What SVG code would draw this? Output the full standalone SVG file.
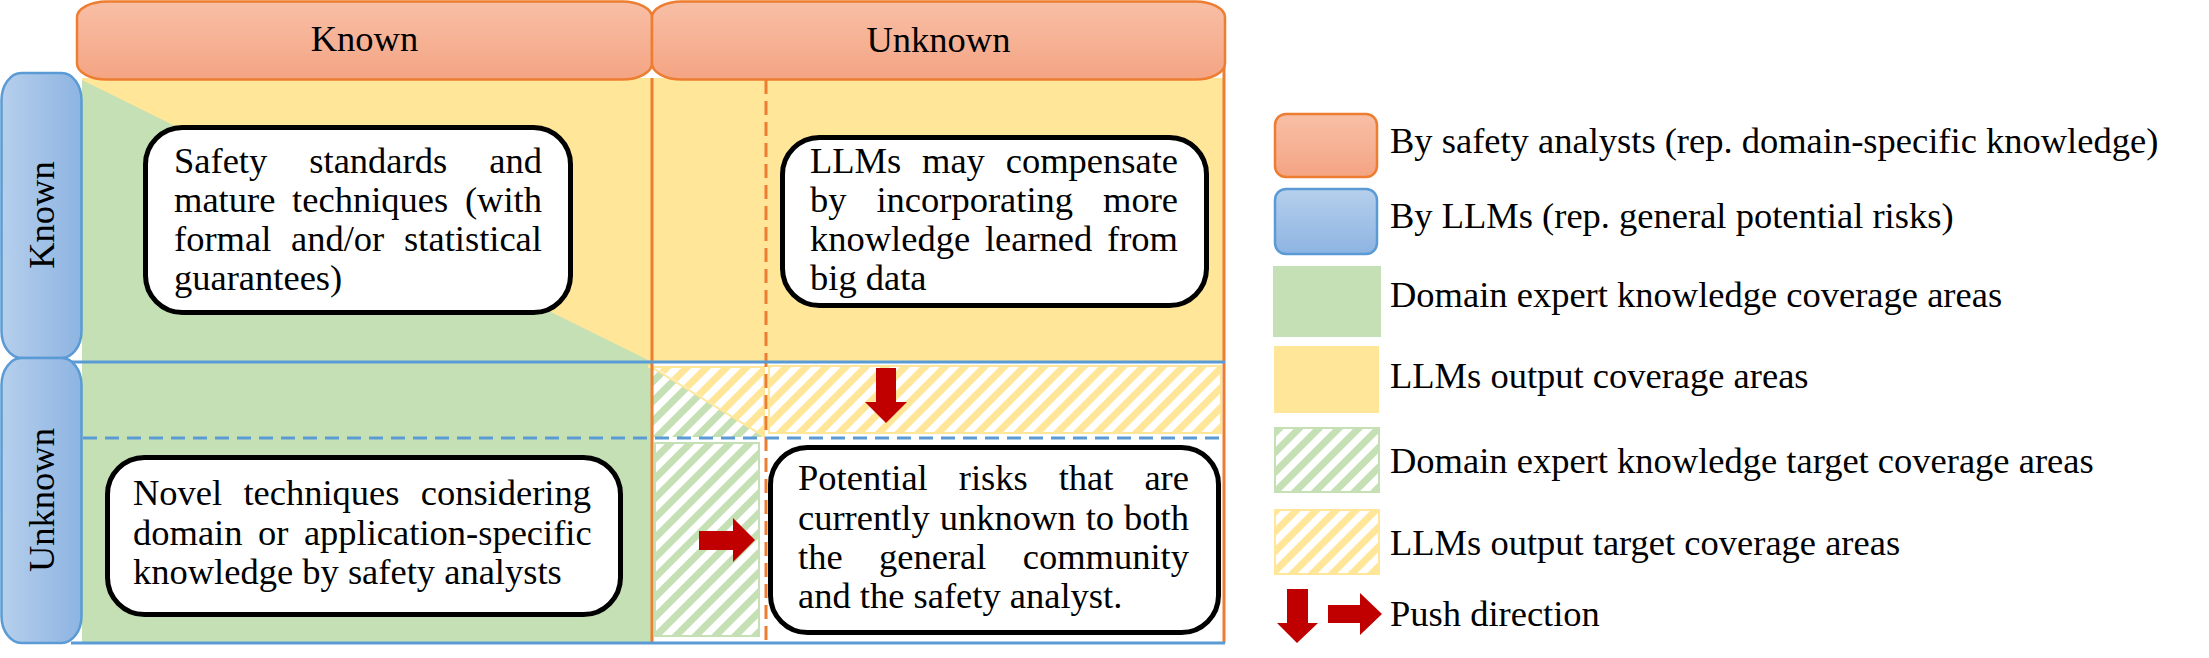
<svg xmlns="http://www.w3.org/2000/svg" width="2209" height="658" viewBox="0 0 2209 658">
<style>
.t{font-family:"Liberation Serif","Times New Roman",serif;font-size:36.5px;fill:#000}
.box{fill:#fff;stroke:#000;stroke-width:5}
.hdr{fill:url(#gOr);stroke:#ED7D31;stroke-width:2.5}
.rowh{fill:url(#gBl);stroke:#5B9BD5;stroke-width:2.5}
.ol{stroke:#ED7D31;stroke-width:3;fill:none}
.bl{stroke:#5B9BD5;stroke-width:3;fill:none}
.arr{fill:#C00000}
</style>
<defs>
<linearGradient id="gOr" x1="0" y1="0" x2="0" y2="1"><stop offset="0" stop-color="#F8BFA6"/><stop offset="1" stop-color="#F4A483"/></linearGradient>
<linearGradient id="gBl" x1="0" y1="0" x2="1" y2="0"><stop offset="0" stop-color="#B6CFEC"/><stop offset="1" stop-color="#8DB4E2"/></linearGradient>
<linearGradient id="gBlV" x1="0" y1="0" x2="0" y2="1"><stop offset="0" stop-color="#B6CFEC"/><stop offset="1" stop-color="#8DB4E2"/></linearGradient>
<pattern id="hG" patternUnits="userSpaceOnUse" width="14" height="14" patternTransform="rotate(45)"><rect width="14" height="14" fill="#fff"/><rect width="7" height="14" fill="#C5E0B4"/></pattern>
<pattern id="hY" patternUnits="userSpaceOnUse" width="14" height="14" patternTransform="rotate(45)"><rect width="14" height="14" fill="#fff"/><rect width="7" height="14" fill="#FFE699"/></pattern>
</defs>
<rect width="2209" height="658" fill="#fff"/>

<g id="cells">
<rect x="82" y="78" width="570" height="284" fill="#FFE699"/>
<polygon points="82,80 652,362 82,362" fill="#C5E0B4"/>
<rect x="652" y="78" width="573" height="284" fill="#FFE699"/>
<rect x="82" y="362" width="570" height="281" fill="#C5E0B4"/>
<polygon points="653,366 765,366 765,437" fill="url(#hY)"/>
<polygon points="653,367 765,437 653,437" fill="url(#hG)"/>
<path d="M648,367 H764 V437 M648,365 L765,437" stroke="#FFE699" stroke-width="2" fill="none"/>
<rect x="769" y="366" width="452" height="67" fill="url(#hY)" stroke="#FFE699" stroke-width="2"/>
<rect x="655" y="443" width="104" height="193" fill="url(#hG)" stroke="#C5E0B4" stroke-width="2"/>
</g>

<g id="grid-lines">
<line class="ol" x1="652" y1="78" x2="652" y2="643"/>
<line class="ol" x1="1224" y1="66" x2="1224" y2="643"/>
<line class="ol" x1="766" y1="80" x2="766" y2="643" stroke-dasharray="14 7"/>
<line class="bl" x1="71" y1="362" x2="1225" y2="362"/>
<line class="bl" x1="83" y1="438" x2="1225" y2="438" stroke-dasharray="14 8"/>
<line class="bl" x1="71" y1="643" x2="1225" y2="643"/>
</g>

<g id="header-known">
<rect class="hdr" x="77" y="1.5" width="575" height="78" rx="30" ry="16"/>
<text class="t" x="364.5" y="51" text-anchor="middle">Known</text>
</g>
<g id="header-unknown">
<rect class="hdr" x="652" y="1.5" width="573" height="78" rx="30" ry="16"/>
<text class="t" x="938.5" y="52" text-anchor="middle">Unknown</text>
</g>
<g id="row-known">
<rect class="rowh" x="1.5" y="73" width="80" height="285" rx="20" ry="27"/>
<text class="t" transform="translate(53.5,215) rotate(-90)" text-anchor="middle">Known</text>
</g>
<g id="row-unknown">
<rect class="rowh" x="1.5" y="358" width="80" height="285" rx="20" ry="27"/>
<text class="t" transform="translate(53.5,500) rotate(-90)" text-anchor="middle">Unknown</text>
</g>

<g id="box-known-known">
<rect class="box" x="145.5" y="127.5" width="425" height="185" rx="37"/>
<text class="t" y="172.5"><tspan x="174">Safety</tspan><tspan x="309.3">standards</tspan><tspan x="489.3">and</tspan></text>
<text class="t" y="211.5"><tspan x="174">mature</tspan><tspan x="292.1">techniques</tspan><tspan x="464.9">(with</tspan></text>
<text class="t" y="250.5"><tspan x="174">formal</tspan><tspan x="291">and/or</tspan><tspan x="404.1">statistical</tspan></text>
<text class="t" x="174" y="289.5">guarantees)</text>
</g>

<g id="box-known-unknown">
<rect class="box" x="782.5" y="137.5" width="424" height="168" rx="37"/>
<text class="t" y="173"><tspan x="810">LLMs</tspan><tspan x="922">may</tspan><tspan x="1005.7">compensate</tspan></text>
<text class="t" y="212"><tspan x="810">by</tspan><tspan x="876.4">incorporating</tspan><tspan x="1103">more</tspan></text>
<text class="t" y="251"><tspan x="810">knowledge</tspan><tspan x="984.9">learned</tspan><tspan x="1107">from</tspan></text>
<text class="t" x="810" y="290">big data</text>
</g>

<g id="box-unknown-known">
<rect class="box" x="107.5" y="457.5" width="513" height="157" rx="37"/>
<text class="t" y="505"><tspan x="133">Novel</tspan><tspan x="243.4">techniques</tspan><tspan x="420.7">considering</tspan></text>
<text class="t" y="545"><tspan x="133">domain</tspan><tspan x="258">or</tspan><tspan x="303.9">application-specific</tspan></text>
<text class="t" x="133" y="584">knowledge by safety analysts</text>
</g>

<g id="box-unknown-unknown">
<rect class="box" x="770.5" y="447.5" width="448" height="185" rx="37"/>
<text class="t" y="490"><tspan x="798">Potential</tspan><tspan x="958.8">risks</tspan><tspan x="1058.7">that</tspan><tspan x="1144.4">are</tspan></text>
<text class="t" y="529.5"><tspan x="798">currently</tspan><tspan x="939.8">unknown</tspan><tspan x="1085.7">to</tspan><tspan x="1124.1">both</tspan></text>
<text class="t" y="569"><tspan x="798">the</tspan><tspan x="879">general</tspan><tspan x="1022.7">community</tspan></text>
<text class="t" x="798" y="608">and the safety analyst.</text>
</g>

<g id="connectors">
<polygon class="arr" points="876,368 896,368 896,402 907,402 886,423 865,402 876,402"/>
<polygon class="arr" points="699,531 733,531 733,518 755,540 733,562 733,550 699,550"/>
</g>

<g id="legend">
<g id="legend-analysts">
<rect x="1275" y="114" width="102" height="63" rx="11" fill="url(#gOr)" stroke="#ED7D31" stroke-width="2.5"/>
<text class="t" x="1390" y="153">By safety analysts (rep. domain-specific knowledge)</text>
</g>
<g id="legend-llms">
<rect x="1275" y="189" width="102" height="65" rx="11" fill="url(#gBlV)" stroke="#5B9BD5" stroke-width="2.5"/>
<text class="t" x="1390" y="228">By LLMs (rep. general potential risks)</text>
</g>
<g id="legend-expert">
<rect x="1273" y="266" width="108" height="71" fill="#C5E0B4"/>
<text class="t" x="1390" y="307">Domain expert knowledge coverage areas</text>
</g>
<g id="legend-llm-out">
<rect x="1274" y="346" width="105" height="67" fill="#FFE699"/>
<text class="t" x="1390" y="388">LLMs output coverage areas</text>
</g>
<g id="legend-expert-target">
<rect x="1275" y="428" width="104" height="64" fill="url(#hG)" stroke="#C5E0B4" stroke-width="2"/>
<text class="t" x="1390" y="473">Domain expert knowledge target coverage areas</text>
</g>
<g id="legend-llm-target">
<rect x="1275" y="510" width="104" height="64" fill="url(#hY)" stroke="#FFE699" stroke-width="2"/>
<text class="t" x="1390" y="555">LLMs output target coverage areas</text>
</g>
<g id="legend-push">
<polygon class="arr" points="1287,589 1308,589 1308,623 1318,623 1297,643 1277,623 1287,623"/>
<polygon class="arr" points="1328,605 1360,605 1360,593 1382,614 1360,635 1360,623 1328,623"/>
<text class="t" x="1390" y="626">Push direction</text>
</g>
</g>
</svg>
